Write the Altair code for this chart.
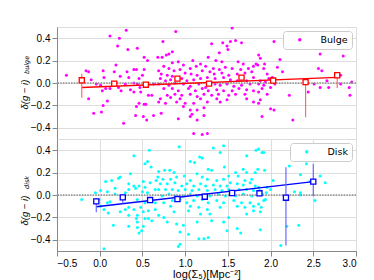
import altair as alt
import pandas as pd

# ---------------- data ----------------
# Bulge panel scatter (x = log Sigma5, y = delta(g-i)_bulge)
bulge_left = [
    (0.31, 0.47), (0.12, 0.42), (0.23, 0.40), (0.21, 0.33), (0.44, 0.31), (0.33, 0.30),
    (0.52, 0.23), (0.56, 0.20), (0.19, 0.16), (-0.39, 0.07), (-0.16, 0.11), (-0.13, 0.10),
    (0.04, 0.11), (0.17, 0.10), (0.32, 0.10), (0.40, 0.12), (0.43, 0.12), (0.52, 0.12),
    (-0.10, 0.03), (0.05, 0.05), (0.24, 0.06), (0.34, 0.05), (0.46, 0.04), (0.50, 0.07),
    (-0.04, -0.01), (0.01, -0.02), (0.12, -0.05), (0.22, -0.04), (0.30, -0.01), (0.40, 0.00),
    (0.44, -0.01), (0.47, -0.04), (0.63, -0.01), (0.03, -0.07), (0.07, -0.05), (0.25, -0.07),
    (0.36, -0.06), (0.40, -0.08), (0.48, -0.08), (0.57, -0.11), (0.61, -0.11), (-0.13, -0.14),
    (0.09, -0.16), (0.04, -0.20), (0.43, -0.21), (0.46, -0.18), (0.52, -0.19), (0.54, -0.19),
    (-0.07, -0.27), (0.02, -0.26), (0.28, -0.36), (0.42, -0.29), (0.51, -0.30), (0.55, -0.33),
    (0.63, -0.29),
]
bulge_mid = [
    (0.89, 0.46), (1.55, 0.49), (0.74, 0.37), (1.59, 0.38), (1.53, 0.37), (1.44, 0.36),
    (1.66, 0.36), (1.31, 0.35), (0.85, 0.28), (0.81, 0.26), (0.78, 0.25), (0.73, 0.23),
    (0.68, 0.23), (1.49, 0.33), (1.50, 0.30), (1.40, 0.27), (1.27, 0.23), (1.09, 0.20),
    (0.92, 0.19), (0.85, 0.18), (0.98, 0.16), (1.18, 0.17), (1.36, 0.20), (1.43, 0.19),
    (1.62, 0.19), (1.68, 0.17), (1.80, 0.15), (0.75, 0.15), (0.81, 0.13), (0.87, 0.11),
    (0.94, 0.12), (1.06, 0.13), (1.13, 0.15), (1.24, 0.15), (1.33, 0.13), (1.40, 0.12),
    (1.47, 0.14), (1.55, 0.13), (1.65, 0.12), (1.74, 0.13), (1.83, 0.17), (0.69, 0.11),
    (0.72, 0.08), (0.79, 0.07), (0.85, 0.06), (1.00, 0.09), (1.07, 0.08), (1.14, 0.07),
    (1.20, 0.11), (1.29, 0.10), (1.34, 0.08), (1.43, 0.09), (1.51, 0.07), (1.61, 0.08),
    (1.70, 0.09), (1.78, 0.10), (0.71, 0.04), (0.77, 0.02), (0.83, 0.03), (0.96, 0.04),
    (1.02, 0.02), (1.10, 0.03), (1.18, 0.04), (1.26, 0.05), (1.35, 0.04), (1.45, 0.05),
    (1.53, 0.03), (1.61, 0.02), (1.72, 0.02), (1.80, 0.05), (0.69, -0.01), (0.81, -0.02),
    (0.88, 0.00), (0.98, -0.01), (1.06, -0.03), (1.16, -0.01), (1.24, -0.04), (1.35, -0.01),
    (1.41, -0.02), (1.49, -0.01), (1.57, -0.03), (1.66, -0.02), (1.76, -0.01), (0.75, -0.05),
    (0.85, -0.05), (0.92, -0.07), (1.04, -0.05), (1.12, -0.07), (1.20, -0.05), (1.27, -0.07),
    (1.37, -0.06), (1.45, -0.07), (1.55, -0.07), (1.63, -0.05), (1.72, -0.06), (1.80, -0.07),
    (0.79, -0.11), (0.88, -0.10), (0.96, -0.11), (1.06, -0.10), (1.14, -0.12), (1.22, -0.10),
    (1.31, -0.11), (1.39, -0.10), (1.51, -0.11), (1.59, -0.10), (1.70, -0.10), (0.71, -0.14),
    (0.83, -0.13), (0.94, -0.14), (1.18, -0.14), (1.37, -0.14), (1.49, -0.15), (1.72, -0.14),
    (0.69, -0.17), (0.77, -0.18), (0.90, -0.17), (1.00, -0.18), (1.10, -0.18), (1.26, -0.17),
    (1.41, -0.17), (1.80, -0.17), (0.98, -0.21), (1.06, -0.24), (1.22, -0.22), (1.14, -0.24),
    (0.72, -0.27), (1.08, -0.28), (1.22, -0.29), (0.92, -0.32), (1.06, -0.30), (1.14, -0.33),
    (1.10, -0.45), (1.20, -0.46), (1.26, -0.45),
]
bulge_right = [
    (2.04, 0.37), (1.86, 0.25), (1.88, 0.22), (1.93, 0.17), (1.85, 0.16), (1.92, 0.13),
    (1.96, 0.08), (2.11, 0.21), (2.08, 0.14), (2.14, 0.10), (2.02, 0.05), (1.98, 0.04),
    (1.88, 0.02), (1.94, 0.01), (1.86, -0.01), (1.92, -0.02), (2.00, -0.04), (2.05, -0.01),
    (1.90, -0.05), (1.86, -0.08), (1.96, -0.10), (1.88, -0.15), (1.86, -0.18), (2.58, 0.26),
    (2.85, 0.24), (2.56, 0.13), (2.60, 0.11), (2.66, 0.02), (2.82, 0.07), (2.51, -0.01),
    (2.44, -0.08), (2.22, -0.11), (2.58, -0.04), (2.68, -0.04), (2.92, -0.04), (2.95, 0.01),
    (2.82, -0.01), (2.00, -0.23), (2.04, -0.24), (1.90, -0.30), (2.26, -0.33), (2.93, -0.11),
]

# Disk panel scatter
disk_left = [
    (0.58, 0.40), (0.40, 0.35), (0.56, 0.30), (0.53, 0.28), (0.60, 0.25), (0.36, 0.19),
    (0.24, 0.16), (0.22, 0.15), (0.14, 0.13), (0.07, 0.12), (0.34, 0.10), (0.40, 0.08),
    (0.46, 0.08), (0.51, 0.12), (0.59, 0.11), (0.66, 0.13), (0.18, 0.06), (0.01, 0.04),
    (-0.05, 0.02), (0.09, 0.03), (0.18, 0.01), (0.30, 0.02), (0.34, 0.05), (0.42, 0.06),
    (0.50, 0.03), (0.53, 0.07), (0.56, 0.02), (0.65, 0.05), (-0.21, -0.04), (-0.01, -0.04),
    (0.09, -0.07), (0.12, -0.06), (0.44, -0.04), (0.53, -0.07), (0.65, -0.07), (0.01, -0.10),
    (0.05, -0.13), (0.10, -0.16), (0.24, -0.15), (0.30, -0.13), (0.34, -0.11), (0.40, -0.13),
    (0.48, -0.11), (0.51, -0.15), (0.57, -0.14), (0.65, -0.13), (0.34, -0.18), (0.44, -0.18),
    (0.43, -0.21), (0.44, -0.24), (0.44, -0.29), (0.53, -0.21), (0.57, -0.21), (0.61, -0.23),
    (0.51, -0.28), (0.49, -0.32), (0.34, -0.28), (0.16, -0.27), (0.46, -0.34), (0.05, -0.48),
]
disk_mid = [
    (0.93, 0.43), (1.45, 0.44), (1.33, 0.42), (1.41, 0.38), (1.72, 0.35), (1.17, 0.34),
    (1.20, 0.33), (1.06, 0.30), (1.11, 0.29), (1.83, 0.40), (0.76, 0.22), (0.82, 0.22),
    (0.69, 0.21), (1.27, 0.23), (1.31, 0.22), (1.46, 0.25), (1.68, 0.23), (1.72, 0.20),
    (1.82, 0.20), (0.87, 0.20), (0.99, 0.17), (1.14, 0.19), (1.20, 0.16), (1.51, 0.17),
    (1.59, 0.20), (1.62, 0.17), (0.68, 0.16), (0.74, 0.14), (0.83, 0.14), (0.90, 0.16),
    (1.06, 0.13), (1.26, 0.14), (1.37, 0.13), (1.45, 0.14), (1.53, 0.11), (1.70, 0.13),
    (1.78, 0.14), (0.71, 0.10), (0.79, 0.10), (0.88, 0.11), (0.96, 0.08), (1.02, 0.10),
    (1.10, 0.08), (1.18, 0.10), (1.24, 0.08), (1.33, 0.09), (1.41, 0.08), (1.49, 0.08),
    (1.61, 0.10), (1.68, 0.09), (1.76, 0.11), (1.82, 0.08), (0.69, 0.05), (0.77, 0.05),
    (0.85, 0.05), (0.92, 0.04), (1.00, 0.05), (1.08, 0.04), (1.16, 0.05), (1.26, 0.04),
    (1.35, 0.05), (1.43, 0.04), (1.51, 0.05), (1.63, 0.05), (1.72, 0.05), (1.80, 0.04),
    (0.73, -0.01), (0.81, 0.01), (0.88, -0.01), (0.98, -0.01), (1.06, 0.01), (1.14, -0.01),
    (1.29, -0.01), (1.39, 0.01), (1.47, -0.01), (1.59, -0.01), (1.68, 0.01), (1.78, -0.01),
    (0.75, -0.07), (0.85, -0.05), (0.94, -0.04), (1.02, -0.07), (1.10, -0.05), (1.20, -0.04),
    (1.27, -0.07), (1.37, -0.05), (1.45, -0.07), (1.57, -0.05), (1.66, -0.07), (1.76, -0.07),
    (0.83, -0.10), (1.06, -0.10), (1.16, -0.11), (1.26, -0.13), (1.41, -0.11), (1.61, -0.10),
    (1.70, -0.11), (1.80, -0.10), (0.69, -0.18), (0.75, -0.20), (0.87, -0.15), (1.04, -0.14),
    (1.18, -0.17), (1.29, -0.17), (1.51, -0.20), (1.72, -0.17), (1.80, -0.14), (0.79, -0.24),
    (0.90, -0.26), (0.98, -0.27), (1.14, -0.24), (1.31, -0.23), (1.45, -0.24), (1.61, -0.30),
    (1.04, -0.35), (0.94, -0.33), (1.49, -0.32), (1.65, -0.34), (1.22, -0.39), (1.27, -0.38),
    (1.16, -0.39), (0.94, -0.44), (0.92, -0.46),
]
disk_right = [
    (1.86, 0.41), (1.90, 0.38), (1.92, 0.38), (2.22, 0.26), (2.35, 0.18), (2.42, 0.28),
    (2.03, 0.13), (1.96, 0.07), (1.85, 0.23), (1.93, 0.22), (1.86, 0.07), (2.00, 0.05),
    (1.87, 0.04), (2.58, 0.17), (2.64, 0.11), (2.46, 0.12), (2.35, 0.02), (2.28, 0.03),
    (2.35, 0.00), (1.95, 0.02), (1.90, 0.01), (1.92, -0.05), (1.94, -0.04), (1.86, -0.08),
    (1.89, -0.11), (1.88, -0.15), (2.52, -0.05), (1.88, -0.31), (2.19, -0.28), (2.33, -0.27),
    (2.12, -0.45),
]

# Binned means with error bars
bulge_bin_x = [-0.21, 0.17, 0.54, 0.91, 1.28, 1.66, 2.03, 2.41, 2.78]
bulge_bin_y = [0.024, -0.006, -0.015, 0.039, -0.006, 0.048, 0.022, 0.008, 0.069]
bulge_bin_lo = [-0.131, -0.020, -0.028, 0.027, -0.018, 0.035, 0.008, -0.306, -0.045]
bulge_bin_hi = [0.083, 0.008, -0.002, 0.051, 0.006, 0.061, 0.036, 0.030, 0.090]

disk_bin_x = [-0.04, 0.27, 0.59, 0.91, 1.23, 1.55, 1.87, 2.18, 2.50]
disk_bin_y = [-0.057, -0.021, -0.045, -0.036, -0.015, 0.018, 0.015, -0.024, 0.119]
disk_bin_lo = [-0.155, -0.075, -0.058, -0.048, -0.026, 0.006, 0.002, -0.452, -0.012]
disk_bin_hi = [-0.030, 0.005, -0.032, -0.024, -0.004, 0.030, 0.028, 0.247, 0.277]

# Linear fits
bulge_fit_x = [-0.21, 2.78]
bulge_fit_y = [-0.040, 0.050]
disk_fit_x = [-0.04, 2.50]
disk_fit_y = [-0.105, 0.120]

x_ticks = [-0.5, 0.0, 0.5, 1.0, 1.5, 2.0, 2.5, 3.0]
y_ticks = [-0.4, -0.2, 0.0, 0.2, 0.4]

FONT = "DejaVu Sans"
W, H = 299, 112


def panel(points, label, pt_color, bx, by, blo, bhi, fx, fy, m_color, bar_color,
          sub, title_y, sub_y, show_x):
    pts = pd.DataFrame(points, columns=["x", "y"])
    pts["s"] = label
    bins = pd.DataFrame({"x": bx, "y": by, "lo": blo, "hi": bhi})
    fit = pd.DataFrame({"x": fx, "y": fy})
    zero = pd.DataFrame({"z": [0.0]})
    subdf = pd.DataFrame({"t": [sub]})

    xscale = alt.Scale(domain=[-0.5, 3.0], nice=False, zero=False)
    yscale = alt.Scale(domain=[-0.5, 0.5], nice=False, zero=False)
    if show_x:
        xaxis = alt.Axis(values=x_ticks, format=".1f", title="log(Σ₅)[Mpc⁻²]",
                         titlePadding=0, labelPadding=2, titleFontWeight="normal")
    else:
        xaxis = None
    yaxis = alt.Axis(values=y_ticks, format=".1f", title="δ(g − i)",
                     titleX=-33, titleY=title_y, titleAngle=270, titleAlign="left",
                     titleBaseline="middle", titleFontStyle="italic", titleFontSize=9.5,
                     titleFontWeight="normal", labelPadding=2)

    def X(f="x:Q"):
        return alt.X(f, scale=xscale, axis=xaxis)

    def Y(f="y:Q"):
        return alt.Y(f, scale=yscale, axis=yaxis)

    scatter = alt.Chart(pts).mark_circle(size=9, opacity=1, clip=True).encode(
        x=X(), y=Y(),
        color=alt.Color("s:N", scale=alt.Scale(domain=[label], range=[pt_color]),
                        legend=alt.Legend(title=None, orient="top-right", offset=4,
                                          padding=4, fillColor="white",
                                          strokeColor="#cccccc", cornerRadius=3,
                                          labelFontSize=9.5, labelFont=FONT,
                                          labelColor="black", symbolSize=12,
                                          symbolOffset=8, labelOffset=16,
                                          symbolStrokeWidth=0, symbolType="circle")),
    )
    zline = alt.Chart(zero).mark_rule(color="#8c8c8c", strokeWidth=1.6,
                                      strokeDash=[1.5, 1.2]).encode(y=Y("z:Q"))
    fitl = alt.Chart(fit).mark_line(color=m_color, strokeWidth=1.3).encode(x=X(), y=Y())
    bars = alt.Chart(bins).mark_rule(color=bar_color, strokeWidth=1.2).encode(
        x=X(), y=Y("lo:Q"), y2="hi:Q")
    sq = alt.Chart(bins).mark_point(shape="square", size=26, fill="white", fillOpacity=1,
                                    stroke=m_color, strokeWidth=1.3, opacity=1).encode(
        x=X(), y=Y())
    subt = alt.Chart(subdf).mark_text(angle=270, align="left", baseline="middle",
                                      fontSize=6.5, fontStyle="italic", font=FONT,
                                      color="black").encode(
        x=alt.value(-30), y=alt.value(sub_y), text="t:N")
    return alt.layer(scatter, zline, fitl, bars, sq, subt).properties(width=W, height=H)


top = panel(bulge_left + bulge_mid + bulge_right, "Bulge", "#ff00ff",
            bulge_bin_x, bulge_bin_y, bulge_bin_lo, bulge_bin_hi,
            bulge_fit_x, bulge_fit_y, "#ff0000", "#ff6a6a",
            "bulge", 82, 47, False)
bottom = panel(disk_left + disk_mid + disk_right, "Disk", "#00ffff",
               disk_bin_x, disk_bin_y, disk_bin_lo, disk_bin_hi,
               disk_fit_x, disk_fit_y, "#0000ff", "#6a6aff",
               "disk", 86, 50, True)

chart = alt.vconcat(top, bottom, spacing=0, bounds="flush").resolve_scale(
    color="independent").properties(
    padding={"left": 10, "top": 18, "right": 5, "bottom": 0},
).configure_view(stroke="#808080", strokeWidth=1).configure_axis(
    labelFont=FONT, labelFontSize=8, labelColor="black", titleFont=FONT,
    titleFontSize=9, titleFontWeight="normal", titleColor="black", grid=False,
    domain=False, tickColor="#333333", tickSize=3.5, tickWidth=0.8,
).configure(background="white")

chart.save("out.html", embed_options={"renderer": "svg", "actions": False})
